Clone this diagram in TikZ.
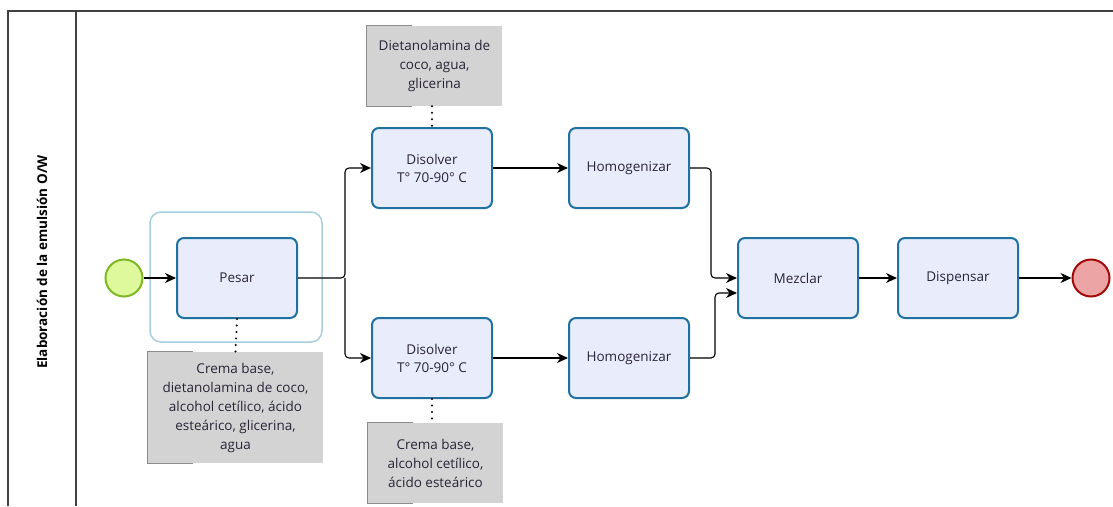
\documentclass[tikz,border=0pt]{standalone}
\usepackage{fontspec}
\setmainfont{Open Sans}
\usetikzlibrary{arrows.meta}
\definecolor{taskfill}{HTML}{E8ECFB}
\definecolor{taskline}{HTML}{1F72A0}
\definecolor{grpline}{HTML}{A8CEE0}
\definecolor{annfill}{HTML}{D3D3D3}
\definecolor{startfill}{HTML}{DEF89C}
\definecolor{startline}{HTML}{7DB823}
\definecolor{endfill}{HTML}{EDA4A4}
\definecolor{endline}{HTML}{A30808}
\definecolor{txt}{HTML}{2A2438}
\tikzset{
  task/.style={draw=taskline,fill=taskfill,line width=2pt,rounded corners=7pt,
    minimum width=120pt,minimum height=80pt,align=center,text=txt,
    font=\fontsize{13.5}{18}\selectfont},
  annot/.style={fill=annfill,align=center,text=txt,inner sep=0pt,
    font=\fontsize{13.5}{19}\selectfont},
  flow/.style={-{Stealth[length=11pt,width=10pt,inset=3.5pt]},line width=1.1pt,rounded corners=4pt},
  assoc/.style={line width=2.2pt,dash pattern=on 0pt off 6.5pt,line cap=round},
}
\begin{document}
\begin{tikzpicture}[x=1pt,y=-1pt]
\useasboundingbox (0,0) rectangle (1113,506);

% lane
\draw[black!75,line width=1.3pt] (8,506) -- (8,11) -- (1113,11);
\draw[black!75,line width=1.3pt] (76,11) -- (76,506);
\node[rotate=90,font=\fontsize{13.5}{16}\selectfont\bfseries] (lane) at (42,262) {Elaboración de la emulsión O/W};

% group round Pesar
\draw[grpline,line width=1.5pt,rounded corners=11pt,fill=white] (150,212) rectangle (322,342);

% events
\node[circle,draw=startline,fill=startfill,line width=2pt,minimum size=37pt,inner sep=0pt] (start) at (124,278) {};
\node[circle,draw=endline,fill=endfill,line width=2pt,minimum size=37pt,inner sep=0pt] (end) at (1091,278) {};

% tasks
\node[task] (pesar) at (237,278) {Pesar};
\node[task] (dis1) at (432,168) {Disolver\\T° 70-90° C};
\node[task] (dis2) at (432,358) {Disolver\\T° 70-90° C};
\node[task] (hom1) at (629,168) {Homogenizar};
\node[task] (hom2) at (629,358) {Homogenizar};
\node[task] (mez) at (798,278) {Mezclar};
\node[task] (disp) at (958,278) {Dispensar};

% annotations
\node[annot,minimum width=175pt,minimum height=111pt] (ann1) at (235.5,407.5) {Crema base,\\dietanolamina de coco,\\alcohol cetílico, ácido\\esteárico, glicerina,\\agua};
\node[annot,minimum width=135pt,minimum height=80pt] (ann2) at (434.5,66) {Dietanolamina de\\coco, agua,\\glicerina};
\node[annot,minimum width=135pt,minimum height=80pt] (ann3) at (435.5,463) {Crema base,\\alcohol cetílico,\\ácido esteárico};
\foreach \a in {ann1,ann2,ann3}{
  \draw[black!45,line width=1pt] ([xshift=45pt]\a.north west) -- (\a.north west) -- (\a.south west) -- ([xshift=45pt]\a.south west);
}

% associations
\draw[assoc] (pesar.south) -- (ann1.north);
\draw[assoc] (ann2.south -| dis1.north) -- (dis1.north);
\draw[assoc] (dis2.south) -- (ann3.north -| dis2.south);

% flows
\coordinate (split) at (345,278);
\coordinate (join1) at (711,168);
\coordinate (join2) at (715,358);
\coordinate (mezin) at ([yshift=-15pt]mez.west);
\draw[flow] (start) -- (pesar);
\draw[flow] (pesar.east) -- (split) |- (dis1.west);
\draw[flow] (split) |- (dis2.west);
\draw[flow] (dis1) -- (hom1);
\draw[flow] (dis2) -- (hom2);
\draw[flow] (hom1.east) -- (join1) |- (mez.west);
\draw[flow] (hom2.east) -- (join2) |- (mezin);
\draw[flow] (mez) -- (disp);
\draw[flow] (disp) -- (end);

\end{tikzpicture}
\end{document}
